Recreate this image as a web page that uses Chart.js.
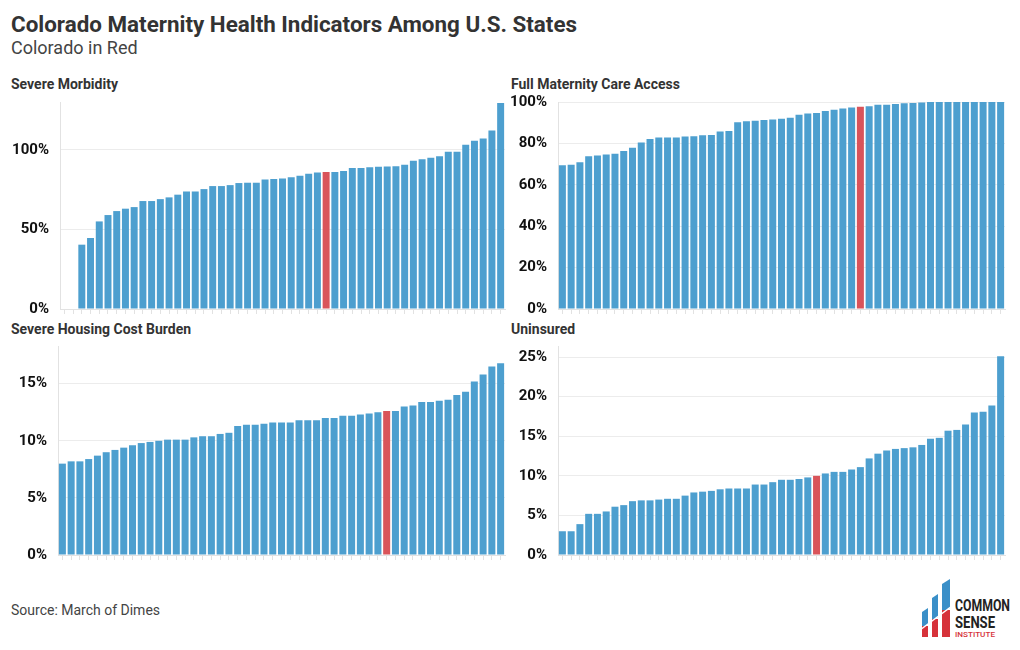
<!DOCTYPE html>
<html>
<head>
<meta charset="utf-8">
<script src="https://cdn.jsdelivr.net/npm/chart.js@4"></script>
<style>
  body { margin: 0; background: #fff; font-family: Roboto, sans-serif; }
  #page { position: relative; width: 1020px; height: 650px; overflow: hidden; }
  .txt { position: absolute; white-space: nowrap; line-height: 1; }
  .title { left: 11px; top: 13.4px; font-size: 22.4px; font-weight: 700; color: #333; }
  .sub { left: 11px; top: 39px; font-size: 18px; color: #444; }
  .panel { font-size: 14px; font-weight: 700; color: #333; }
  .source { left: 11px; top: 603px; font-size: 14px; color: #444; }
  canvas { position: absolute; }
</style>
</head>
<body>
<div id="page">
  <div class="txt title">Colorado Maternity Health Indicators Among U.S. States</div>
  <div class="txt sub">Colorado in Red</div>
  <div class="txt panel" style="left:11px;top:76.5px">Severe Morbidity</div>
  <div class="txt panel" style="left:511px;top:76.5px">Full Maternity Care Access</div>
  <div class="txt panel" style="left:11px;top:322px">Severe Housing Cost Burden</div>
  <div class="txt panel" style="left:511px;top:322px">Uninsured</div>

  <canvas id="morbidity" width="510" height="247" style="left:0;top:82px"></canvas>
  <canvas id="access" width="515" height="247" style="left:505px;top:82px"></canvas>
  <canvas id="housing" width="510" height="249" style="left:0;top:326px"></canvas>
  <canvas id="uninsured" width="515" height="249" style="left:505px;top:326px"></canvas>

  <div class="txt source">Source: March of Dimes</div>

  <svg style="position:absolute;left:915px;top:575px" width="105" height="70">
    <g transform="translate(-915,-575)">
      <polygon points="922,612 928,608 928,624 922,628" fill="#3a8fc8"/>
      <polygon points="932,598 938,594 938,617 932,621" fill="#3a8fc8"/>
      <polygon points="942,584 950,579 950,608 942,613" fill="#3a8fc8"/>
      <rect x="922" y="626" width="6" height="11" fill="#d6323a"/>
      <rect x="932" y="619" width="6" height="18" fill="#d6323a"/>
      <rect x="942" y="610" width="8" height="27" fill="#d6323a"/>
      <line x1="920" y1="630" x2="952" y2="606" stroke="#fff" stroke-width="1.5"/>
      <text x="955" y="611" font-family="Roboto" font-weight="700" font-size="17" fill="#222" textLength="55" lengthAdjust="spacingAndGlyphs">COMMON</text>
      <text x="955" y="628" font-family="Roboto" font-weight="700" font-size="17" fill="#222" textLength="40" lengthAdjust="spacingAndGlyphs">SENSE</text>
      <text x="955" y="637" font-family="Roboto" font-weight="500" font-size="7" fill="#d6323a" textLength="40" lengthAdjust="spacingAndGlyphs">INSTITUTE</text>
    </g>
  </svg>
</div>

<script>
// states ranked low to high in each indicator (51 = 50 states + DC)
const ranks = Array.from({ length: 51 }, (_, i) => i + 1);

// Severe Morbidity, % of national rate (two states with no data)
const morbidity = [null, null, 40.4, 44.6, 55.0, 59.0, 61.5, 63.0, 64.0, 67.8,
  67.8, 69.0, 70.1, 71.8, 73.8, 73.8, 75.3, 77.2, 77.2, 77.8,
  79.1, 79.3, 79.3, 81.4, 81.6, 82.0, 82.8, 83.7, 84.9, 85.8,
  86.0, 86.0, 86.6, 88.5, 88.5, 89.1, 89.3, 89.5, 89.7, 90.6,
  93.1, 94.1, 95.0, 96.0, 98.7, 98.7, 103.1, 105.6, 107.1, 112.1, 129.3];

// Full Maternity Care Access, %
const access = [69.4, 69.7, 70.9, 73.8, 74.1, 74.6, 75.0, 76.3, 77.9, 80.4,
  82.1, 82.8, 82.9, 82.9, 83.3, 83.4, 83.9, 84.1, 85.7, 86.0,
  90.2, 90.7, 91.0, 91.3, 91.5, 91.9, 92.4, 93.9, 94.4, 94.7,
  95.7, 96.3, 96.9, 97.3, 97.7, 97.9, 98.7, 98.7, 99.0, 99.4,
  99.5, 99.8, 100, 100, 100, 100, 100, 100, 100, 100, 100];

// Severe Housing Cost Burden, %
const housing = [8.0, 8.2, 8.2, 8.4, 8.7, 9.0, 9.2, 9.4, 9.6, 9.8,
  9.9, 10.0, 10.1, 10.1, 10.1, 10.3, 10.4, 10.4, 10.6, 10.7,
  11.3, 11.4, 11.4, 11.5, 11.6, 11.6, 11.6, 11.8, 11.8, 11.8,
  12.0, 12.0, 12.2, 12.2, 12.3, 12.4, 12.5, 12.6, 12.6, 13.0,
  13.1, 13.4, 13.4, 13.5, 13.6, 14.0, 14.3, 15.2, 15.8, 16.5, 16.8];

// Uninsured, %
const uninsured = [3.0, 3.0, 3.9, 5.2, 5.2, 5.5, 6.1, 6.3, 6.8, 6.9,
  6.9, 7.0, 7.1, 7.1, 7.5, 7.9, 8.0, 8.1, 8.3, 8.4,
  8.4, 8.4, 8.9, 8.9, 9.2, 9.5, 9.5, 9.6, 9.8, 10.0,
  10.3, 10.5, 10.5, 10.8, 11.1, 12.2, 12.8, 13.2, 13.4, 13.5,
  13.6, 13.9, 14.7, 14.8, 15.7, 15.8, 16.5, 18.0, 18.1, 18.9, 25.1];

// y tick labels per panel
const morbidityTicks = [0, 50, 100];
const accessTicks = [0, 20, 40, 60, 80, 100];
const housingTicks = [0, 5, 10, 15];
const uninsuredTicks = [0, 5, 10, 15, 20, 25];

// where Colorado sits in each ranking
const coloradoRank = { morbidity: 30, access: 34, housing: 37, uninsured: 29 };

const BLUE = '#4d9fcf';
const RED = '#d9545a';
const GRID = '#ececec';
const AXIS = '#e2e2e2';

function panel(id, values, coIdx, tickVals, opts) {
  new Chart(document.getElementById(id), {
    type: 'bar',
    data: {
      labels: ranks,
      datasets: [{
        data: values,
        backgroundColor: values.map((v, i) => (i === coIdx ? RED : BLUE)),
        borderWidth: 0,
        barPercentage: 0.8,
        categoryPercentage: 1
      }]
    },
    options: {
      responsive: false,
      animation: false,
      layout: { padding: { top: 0, right: opts.padRight, left: 0, bottom: 0 } },
      plugins: { legend: { display: false }, tooltip: { enabled: false } },
      scales: {
        x: {
          grid: { display: true, drawOnChartArea: false, drawTicks: true, tickLength: 5, color: AXIS, offset: false },
          border: { display: true, color: AXIS },
          ticks: { display: false },
          afterFit: s => { s.height = 16; }
        },
        y: {
          min: 0,
          max: opts.max,
          ticks: {
            padding: 11,
            color: '#111',
            font: { family: 'Roboto', size: 15, weight: 'bold' },
            callback: v => v + '%'
          },
          grid: { color: GRID, drawTicks: false },
          border: { display: true, color: AXIS },
          afterBuildTicks: s => { s.ticks = tickVals.map(v => ({ value: v })); },
          afterFit: s => { s.width = opts.yWidth; }
        }
      }
    }
  });
}

panel('morbidity', morbidity, coloradoRank.morbidity, morbidityTicks, { max: 130, yWidth: 60, padRight: 5 });
panel('access', access, coloradoRank.access, accessTicks, { max: 100, yWidth: 53, padRight: 15 });
panel('housing', housing, coloradoRank.housing, housingTicks, { max: 18.3, yWidth: 58, padRight: 5 });
panel('uninsured', uninsured, coloradoRank.uninsured, uninsuredTicks, { max: 26.4, yWidth: 53, padRight: 15 });
</script>
</body>
</html>
